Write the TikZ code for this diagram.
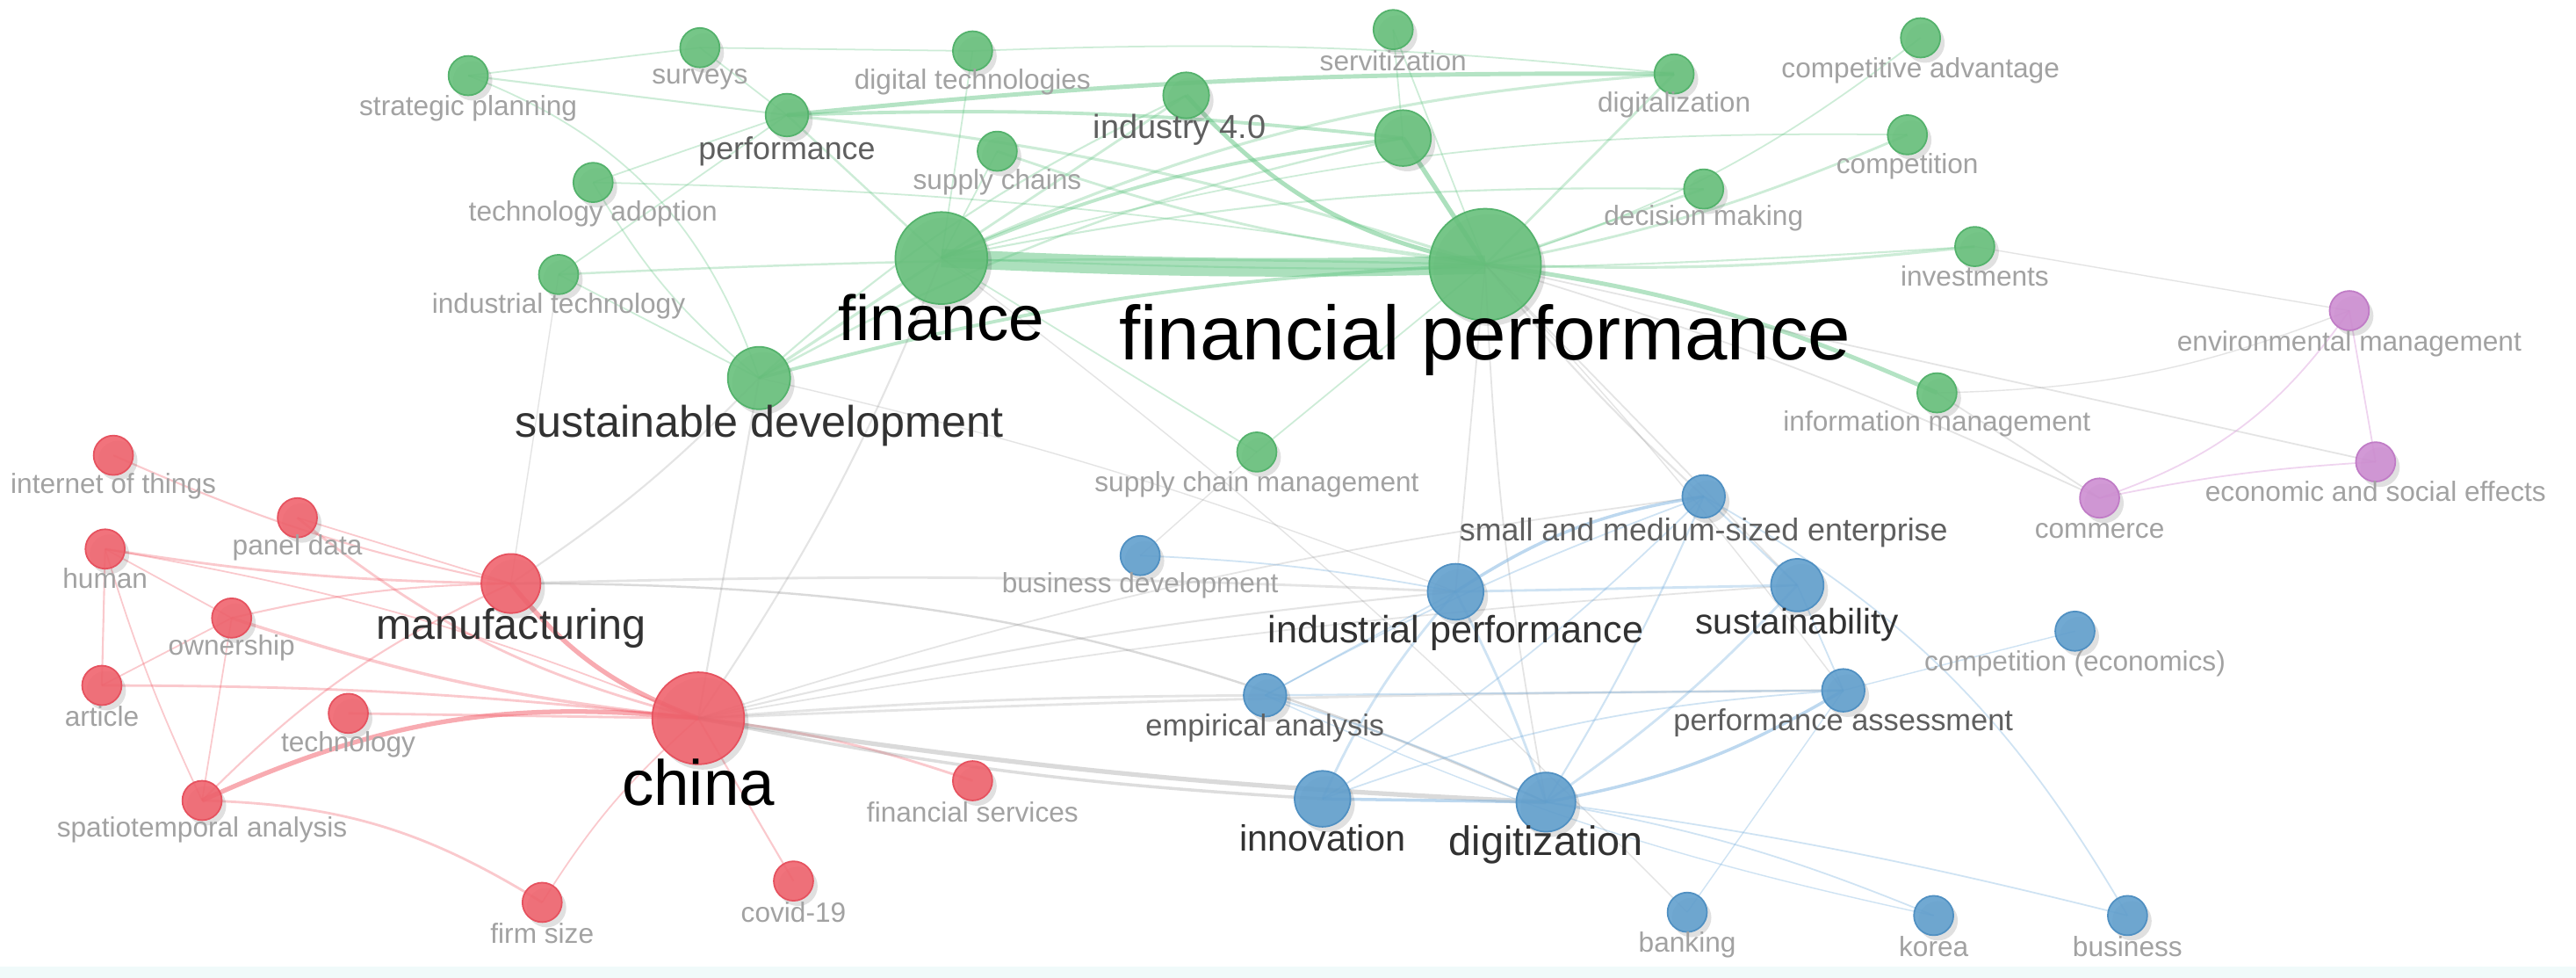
\documentclass[tikz,border=0pt]{standalone}
\usepackage{fontspec}
\setmainfont{Liberation Sans}
\usetikzlibrary{shadows}
\pgfdeclarelayer{bg}
\pgfdeclarelayer{edges}
\pgfsetlayers{bg,edges,main}
\definecolor{cG}{RGB}{104,192,124}
\definecolor{cGd}{RGB}{84,178,108}
\definecolor{cR}{RGB}{240,100,110}
\definecolor{cRd}{RGB}{230,82,95}
\definecolor{cB}{RGB}{98,160,206}
\definecolor{cBd}{RGB}{80,144,194}
\definecolor{cP}{RGB}{206,142,210}
\definecolor{cPd}{RGB}{192,124,198}
\definecolor{eG}{RGB}{90,195,125}
\definecolor{eR}{RGB}{242,88,100}
\definecolor{eB}{RGB}{110,170,220}
\definecolor{eY}{RGB}{135,135,135}
\definecolor{eP}{RGB}{220,160,220}
\definecolor{tA}{RGB}{162,162,162}
\definecolor{tB}{RGB}{95,95,95}
\definecolor{tC}{RGB}{50,50,50}
\definecolor{stripc}{RGB}{240,250,250}
\begin{document}
\begin{tikzpicture}[x=0.018705cm,y=-0.018705cm,
  kw/.style={circle, inner sep=0pt, minimum size={#1*0.03741cm}, fill opacity=0.9, line width=0.5pt,
     drop shadow={opacity=0.12, shadow xshift=0.5mm, shadow yshift=-0.6mm, fill=black}},
  gn/.style={kw=#1, fill=cG, draw=cGd},
  rn/.style={kw=#1, fill=cR, draw=cRd},
  bn/.style={kw=#1, fill=cB, draw=cBd},
  pn/.style={kw=#1, fill=cP, draw=cPd},
  sA/.style={inner sep=0pt, text=tA, font=\fontsize{9}{10}\selectfont},
  sB/.style={inner sep=0pt, text=tB, font=\fontsize{#1}{#1}\selectfont},
  sC/.style={inner sep=0pt, text=tC, font=\fontsize{#1}{#1}\selectfont},
  sD/.style={inner sep=0pt, text=black, font=\fontsize{#1}{#1}\selectfont},
  ge/.style={draw=eG, draw opacity=0.3, line width=#1},
  re/.style={draw=eR, draw opacity=0.32, line width=#1},
  be/.style={draw=eB, draw opacity=0.33, line width=#1},
  ye/.style={draw=eY, draw opacity=0.22, line width=#1},
  pe/.style={draw=eP, draw opacity=0.45, line width=#1}
]
\useasboundingbox (0,0) rectangle (1568,595);
\begin{pgfonlayer}{bg}
\fill[white] (0,0) rectangle (1568,595);
\fill[stripc] (0,588) rectangle (1568,595);
\end{pgfonlayer}

% ---------- green nodes ----------
\node[gn=12] (sp) at (285,46) {};
\node[gn=12] (sv) at (426,29) {};
\node[gn=12] (dt) at (592,31) {};
\node[gn=13] (pf) at (479,70) {};
\node[gn=12] (scs) at (607,92) {};
\node[gn=14] (i40) at (722,58) {};
\node[gn=12] (sz) at (848,18) {};
\node[gn=17] (u1) at (854,84) {};
\node[gn=12] (dz) at (1019,45) {};
\node[gn=12] (ca) at (1169,23) {};
\node[gn=12] (cp) at (1161,82) {};
\node[gn=12] (dm) at (1037,115) {};
\node[gn=12] (ta) at (361,111) {};
\node[gn=12] (it) at (340,167) {};
\node[gn=28] (fin) at (573,157) {};
\node[gn=34] (fp) at (904,161) {};
\node[gn=12] (inv) at (1202,150) {};
\node[gn=12] (im) at (1179,239) {};
\node[gn=19] (sd) at (462,230) {};
\node[gn=12] (scm) at (765,275) {};
% ---------- purple nodes ----------
\node[pn=12] (em) at (1430,189) {};
\node[pn=12] (ese) at (1446,281) {};
\node[pn=12] (com) at (1278,303) {};
% ---------- red nodes ----------
\node[rn=12] (iot) at (69,277) {};
\node[rn=12] (pd) at (181,315) {};
\node[rn=12] (hum) at (64,334) {};
\node[rn=12] (own) at (141,376) {};
\node[rn=12] (art) at (62,417) {};
\node[rn=12] (tec) at (212,434) {};
\node[rn=12] (sta) at (123,487) {};
\node[rn=18] (man) at (311,355) {};
\node[rn=28] (ch) at (425,437) {};
\node[rn=12] (fs) at (592,475) {};
\node[rn=12] (fsz) at (330,549) {};
\node[rn=12] (cov) at (483,536) {};
% ---------- blue nodes ----------
\node[bn=12] (bd) at (694,338) {};
\node[bn=13] (sme) at (1037,302) {};
\node[bn=17] (ip) at (886,360) {};
\node[bn=16] (sus) at (1094,356) {};
\node[bn=12] (ce) at (1263,384) {};
\node[bn=13] (ea) at (770,423) {};
\node[bn=13] (pa) at (1122,420) {};
\node[bn=17] (inn) at (805,486) {};
\node[bn=18] (dg) at (941,488) {};
\node[bn=12] (bk) at (1027,555) {};
\node[bn=12] (ko) at (1177,557) {};
\node[bn=12] (bu) at (1295,557) {};

\begin{pgfonlayer}{edges}
% green
\draw[ge=6pt, draw opacity=0.5] (fin.center) to[bend right=2] (fp.center);
\draw[ge=1.4pt, draw opacity=0.45] (pf.center) to[bend left=3] (dz.center);
\draw[ge=1.1pt, draw opacity=0.4] (pf.center) to[bend left=4] (u1.center);
\draw[ge=0.9pt] (pf.center) to[bend left=6] (fp.center);
\draw[ge=0.7pt] (pf.center) -- (fin.center);
\draw[ge=1.4pt, draw opacity=0.5] (i40.center) to[bend right=18] (fp.center);
\draw[ge=1.5pt, draw opacity=0.5] (u1.center) -- (fp.center);
\draw[ge=0.5pt] (sz.center) -- (u1.center);
\draw[ge=0.5pt] (sz.center) -- (fp.center);
\draw[ge=1.1pt, draw opacity=0.4] (fin.center) to[bend left=8] (u1.center);
\draw[ge=0.9pt] (fin.center) to[bend left=10] (dz.center);
\draw[ge=1.1pt, draw opacity=0.4] (sd.center) to[bend left=6] (fp.center);
\draw[ge=0.9pt] (sd.center) -- (fin.center);
\draw[ge=0.7pt] (sd.center) to[bend left=8] (u1.center);
\draw[ge=0.7pt] (it.center) to[bend left=2] (fp.center);
\draw[ge=0.5pt] (ta.center) to[bend left=4] (fp.center);
\draw[ge=0.5pt] (sp.center) -- (sv.center);
\draw[ge=0.6pt] (sp.center) -- (pf.center);
\draw[ge=0.5pt] (sp.center) to[bend left=25] (sd.center);
\draw[ge=0.5pt] (sv.center) -- (dt.center);
\draw[ge=0.5pt] (sv.center) -- (pf.center);
\draw[ge=0.5pt] (dt.center) -- (fin.center);
\draw[ge=0.5pt] (dt.center) to[bend left=4] (dz.center);
\draw[ge=0.8pt] (scs.center) to[bend right=6] (fp.center);
\draw[ge=0.5pt] (scs.center) -- (fin.center);
\draw[ge=0.8pt] (fp.center) -- (dm.center);
\draw[ge=0.8pt] (fp.center) to[bend right=6] (cp.center);
\draw[ge=0.5pt] (fp.center) to[bend right=10] (ca.center);
\draw[ge=0.9pt] (fp.center) to[bend right=4] (inv.center);
\draw[ge=1.4pt, draw opacity=0.45] (fp.center) to[bend left=8] (im.center);
\draw[ge=0.8pt] (fp.center) -- (dz.center);
\draw[ge=0.6pt] (fin.center) to[bend left=6] (dm.center);
\draw[ge=0.5pt] (fin.center) to[bend left=8] (cp.center);
\draw[ge=0.6pt] (fin.center) to[bend right=3] (inv.center);
\draw[ge=0.5pt] (scm.center) -- (fp.center);
\draw[ge=0.5pt] (scm.center) -- (fin.center);
\draw[ge=0.8pt] (i40.center) -- (fin.center);
\draw[ge=0.6pt] (i40.center) to[bend right=8] (sd.center);
\draw[ge=0.5pt] (it.center) -- (sd.center);
\draw[ge=0.5pt] (ta.center) to[bend right=10] (sd.center);
\draw[ge=0.5pt] (ta.center) -- (pf.center);
\draw[ge=0.5pt] (it.center) -- (pf.center);
% red
\draw[re=1.5pt, draw opacity=0.5] (man.center) to[bend right=15] (ch.center);
\draw[re=1.5pt, draw opacity=0.5] (sta.center) to[bend left=15] (ch.center);
\draw[re=0.8pt] (tec.center) -- (ch.center);
\draw[re=0.8pt] (art.center) to[bend left=3] (ch.center);
\draw[re=1pt] (own.center) to[bend right=6] (ch.center);
\draw[re=0.5pt] (hum.center) to[bend left=6] (ch.center);
\draw[re=0.8pt] (pd.center) to[bend right=12] (ch.center);
\draw[re=0.8pt] (ch.center) to[bend left=6] (fs.center);
\draw[re=0.6pt] (ch.center) -- (cov.center);
\draw[re=0.5pt] (ch.center) to[bend right=8] (fsz.center);
\draw[re=0.8pt] (hum.center) to[bend right=4] (man.center);
\draw[re=0.6pt] (iot.center) to[bend right=6] (man.center);
\draw[re=0.6pt] (own.center) to[bend left=6] (man.center);
\draw[re=0.6pt] (sta.center) to[bend left=10] (man.center);
\draw[re=0.5pt] (pd.center) -- (man.center);
\draw[re=0.6pt] (hum.center) -- (art.center);
\draw[re=0.5pt] (hum.center) -- (own.center);
\draw[re=0.5pt] (art.center) -- (own.center);
\draw[re=0.5pt] (own.center) -- (sta.center);
\draw[re=0.8pt] (sta.center) to[bend left=15] (fsz.center);
\draw[re=0.5pt] (hum.center) to[bend right=4] (sta.center);
% gray cross-cluster
\draw[ye=0.6pt] (ch.center) -- (sd.center);
\draw[ye=0.6pt] (ch.center) to[bend right=6] (fin.center);
\draw[ye=0.6pt] (man.center) to[bend right=6] (sd.center);
\draw[ye=0.4pt] (it.center) -- (man.center);
\draw[ye=1.5pt, draw opacity=0.3] (ch.center) to[bend right=3] (dg.center);
\draw[ye=1pt, draw opacity=0.28] (ch.center) to[bend right=4] (inn.center);
\draw[ye=0.8pt] (ch.center) to[bend left=2] (ea.center);
\draw[ye=0.8pt] (ch.center) to[bend left=1] (pa.center);
\draw[ye=0.6pt] (ch.center) to[bend left=4] (ip.center);
\draw[ye=0.5pt] (ch.center) to[bend left=3] (sus.center);
\draw[ye=0.5pt] (ch.center) to[bend left=5] (sme.center);
\draw[ye=0.8pt] (man.center) to[bend left=2] (ip.center);
\draw[ye=0.7pt, draw opacity=0.3] (man.center) to[bend left=12] (dg.center);
\draw[ye=0.6pt] (fp.center) to[bend right=4] (sme.center);
\draw[ye=0.5pt] (fp.center) to[bend left=4] (com.center);
\draw[ye=0.5pt] (fp.center) -- (ese.center);
\draw[ye=0.4pt] (inv.center) -- (em.center);
\draw[ye=0.4pt] (im.center) to[bend right=10] (em.center);
\draw[ye=0.5pt] (im.center) -- (com.center);
\draw[ye=0.5pt] (fp.center) -- (ip.center);
\draw[ye=0.5pt] (fp.center) to[bend right=4] (dg.center);
\draw[ye=0.5pt] (fp.center) -- (sus.center);
\draw[ye=0.4pt] (fp.center) to[bend left=3] (pa.center);
\draw[ye=0.4pt] (scm.center) -- (bd.center);
\draw[ye=0.4pt] (fin.center) to[bend left=4] (bk.center);
\draw[ye=0.4pt] (sd.center) to[bend left=4] (ip.center);
% blue
\draw[be=1pt, draw opacity=0.45] (ip.center) to[bend left=12] (sme.center);
\draw[be=0.8pt] (ip.center) -- (sus.center);
\draw[be=0.8pt] (ip.center) to[bend right=8] (inn.center);
\draw[be=0.8pt] (ip.center) to[bend left=4] (dg.center);
\draw[be=0.5pt] (ip.center) -- (ea.center);
\draw[be=0.5pt] (ip.center) to[bend right=4] (bd.center);
\draw[be=1pt, draw opacity=0.45] (inn.center) -- (dg.center);
\draw[be=1pt, draw opacity=0.45] (dg.center) to[bend right=10] (pa.center);
\draw[be=0.8pt] (dg.center) to[bend right=6] (sus.center);
\draw[be=0.6pt] (dg.center) to[bend right=4] (sme.center);
\draw[be=0.6pt] (ea.center) to[bend left=4] (dg.center);
\draw[be=0.5pt] (dg.center) to[bend left=6] (ko.center);
\draw[be=0.5pt] (dg.center) to[bend left=3] (bu.center);
\draw[be=0.6pt] (ea.center) -- (pa.center);
\draw[be=0.5pt] (ea.center) to[bend left=4] (sme.center);
\draw[be=0.6pt] (sme.center) -- (sus.center);
\draw[be=0.5pt] (sme.center) to[bend left=15] (bu.center);
\draw[be=0.4pt] (pa.center) -- (bk.center);
\draw[be=0.4pt] (pa.center) -- (ce.center);
\draw[be=0.5pt] (pa.center) to[bend right=8] (inn.center);
\draw[be=0.5pt] (sus.center) -- (pa.center);
\draw[be=0.5pt] (inn.center) to[bend right=6] (sme.center);
\draw[be=0.4pt] (ea.center) to[bend right=6] (ko.center);
% purple
\draw[pe=0.5pt] (em.center) -- (ese.center);
\draw[pe=0.5pt] (em.center) to[bend left=18] (com.center);
\draw[pe=0.5pt] (com.center) to[bend left=4] (ese.center);
\end{pgfonlayer}

% ---------- labels ----------
\node[sA] (l-sp) at (285,66) {strategic planning};
\node[sA] (l-sv) at (426,48) {surveys};
\node[sA] (l-dt) at (592,50) {digital technologies};
\node[sB=10.2] (l-pf) at (479,92) {performance};
\node[sA] (l-scs) at (607,111) {supply chains};
\node[sB=10.8] (l-i40) at (718,79) {industry 4.0};
\node[sA] (l-sz) at (848,37) {servitization};
\node[sA] (l-dz) at (1019,64) {digitalization};
\node[sA] (l-ca) at (1169,43) {competitive advantage};
\node[sA] (l-cp) at (1161,101) {competition};
\node[sA] (l-dm) at (1037,133) {decision making};
\node[sA] (l-ta) at (361,130) {technology adoption};
\node[sA] (l-it) at (340,186) {industrial technology};
\node[sD=20.7] (l-fin) at (573,193) {finance};
\node[sD=24.8] (l-fp) at (904,207) {financial performance};
\node[sA] (l-inv) at (1202,168) {investments};
\node[sA] (l-im) at (1179,258) {information management};
\node[sC=14.3] (l-sd) at (462,259) {sustainable development};
\node[sA] (l-scm) at (765,295) {supply chain management};
\node[sA] (l-em) at (1430,209) {environmental management};
\node[sA] (l-ese) at (1446,299) {economic and social effects};
\node[sA] (l-com) at (1278,323) {commerce};
\node[sA] (l-iot) at (69,296) {internet of things};
\node[sA] (l-pd) at (181,333) {panel data};
\node[sA] (l-hum) at (64,352) {human};
\node[sA] (l-own) at (141,394) {ownership};
\node[sA] (l-art) at (62,436) {article};
\node[sA] (l-tec) at (212,453) {technology};
\node[sA] (l-sta) at (123,505) {spatiotemporal analysis};
\node[sC=13.8] (l-man) at (311,382) {manufacturing};
\node[sD=20.7] (l-ch) at (425,476) {china};
\node[sA] (l-fs) at (592,494) {financial services};
\node[sA] (l-fsz) at (330,568) {firm size};
\node[sA] (l-cov) at (483,555) {covid-19};
\node[sA] (l-bd) at (694,356) {business development};
\node[sB=10.2] (l-sme) at (1037,324) {small and medium-sized enterprise};
\node[sC=12.3] (l-ip) at (886,385) {industrial performance};
\node[sC=11.5] (l-sus) at (1094,380) {sustainability};
\node[sA] (l-ce) at (1263,404) {competition (economics)};
\node[sB=9.8] (l-ea) at (770,443) {empirical analysis};
\node[sB=9.8] (l-pa) at (1122,440) {performance assessment};
\node[sC=11.8] (l-inn) at (805,510) {innovation};
\node[sC=13.3] (l-dg) at (941,514) {digitization};
\node[sA] (l-bk) at (1027,575) {banking};
\node[sA] (l-ko) at (1177,576) {korea};
\node[sA] (l-bu) at (1295,576) {business};
\end{tikzpicture}
\end{document}
